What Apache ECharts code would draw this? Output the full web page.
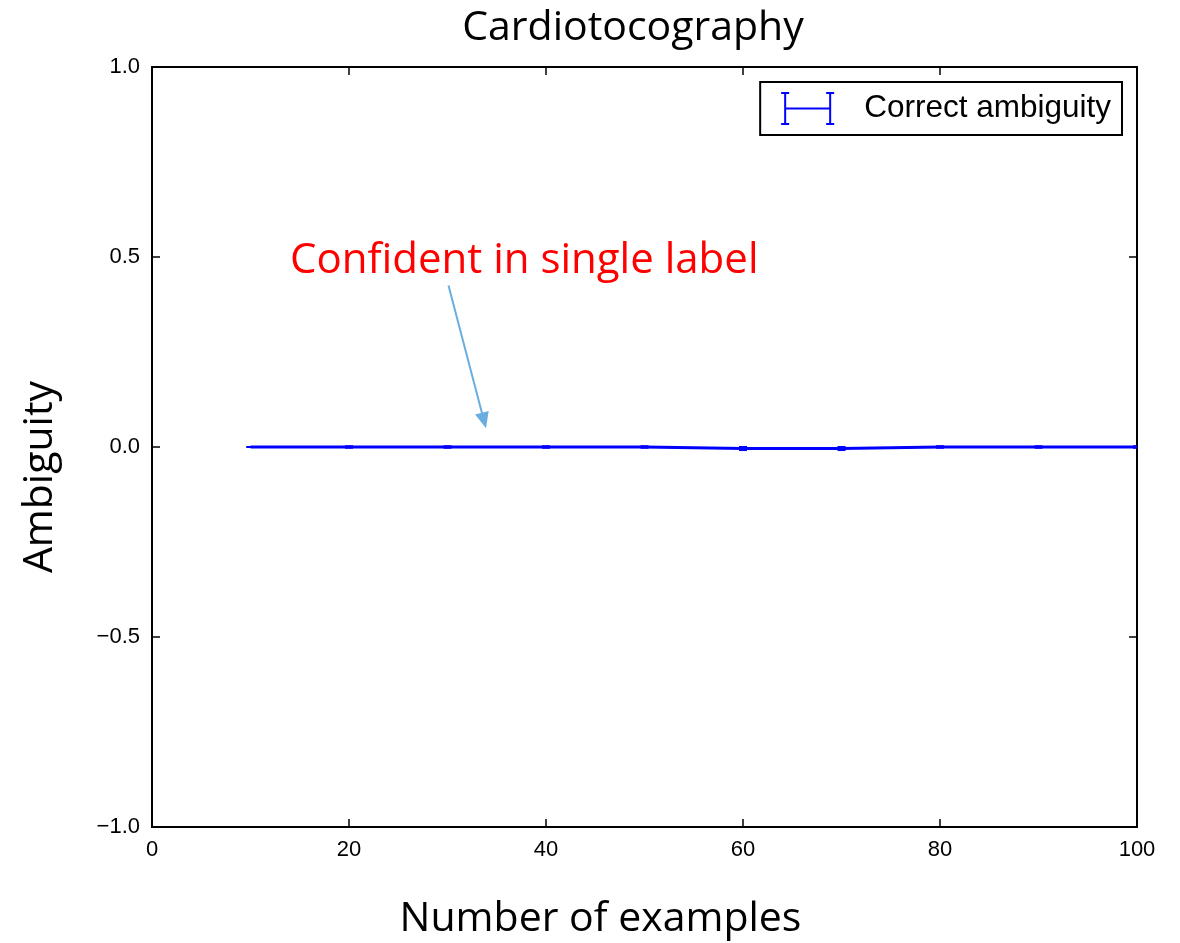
<!DOCTYPE html>
<html><head><meta charset="utf-8">
<script src="https://cdn.jsdelivr.net/npm/echarts@6/dist/echarts.min.js"></script>
<style>html,body{margin:0;padding:0;background:#fff}#c{width:1180px;height:943px}</style>
</head><body><div id="c"></div>
<script>
const xValues = [10, 20, 30, 40, 50, 60, 70, 80, 90, 100];
const ambiguity = [0.0, 0.0, 0.0, 0.0, 0.0, -0.004, -0.004, 0.0, 0.0, 0.0];
const ambiguityErr = [0.0, 0.002, 0.002, 0.002, 0.002, 0.004, 0.004, 0.002, 0.002, 0.002];
const yTicks = [-1.0, -0.5, 0.0, 0.5, 1.0];
const annotationText = 'Confident in single label';
const arrowFrom = [30.1, 0.425];
const arrowTo = [33.7, 0.07];

const chart = echarts.init(document.getElementById('c'));
const tickFont = {fontFamily: 'Liberation Sans', fontSize: 22, color: '#000'};
const fmtY = v => (v < 0 ? '\u2212' : '') + Math.abs(v).toFixed(1);
const errData = xValues.map((x, i) => [x, ambiguity[i] - ambiguityErr[i], ambiguity[i] + ambiguityErr[i]]);
const axisCommon = {
  axisLine: {show: true, onZero: false, lineStyle: {color: '#000', width: 2}},
  axisTick: {inside: true, length: 8, lineStyle: {color: '#000', width: 1.5}},
  splitLine: {show: false}
};
const legendIcon = 'path://M0,0h8v2h-3v29h3v2h-8v-2h3v-29h-3z M4,15.5h45v2h-45z M45,0h8v2h-3v29h3v2h-8v-2h3v-29h-3z';

chart.setOption({
  animation: false,
  title: {text: 'Cardiotocography', left: 628, top: 3, textAlign: 'center',
    textStyle: {fontFamily: 'Open Sans', fontSize: 41, fontWeight: 'normal', color: '#000'}},
  grid: {left: 152, top: 67, width: 985, height: 760, containLabel: false, outerBoundsMode: 'none',
    show: true, borderColor: '#000', borderWidth: 2, backgroundColor: '#fff'},
  legend: {
    data: [{name: 'Correct ambiguity', icon: legendIcon}],
    right: 58, top: 82, itemWidth: 53, itemHeight: 33, itemGap: 10,
    padding: [10, 11, 10, 21], borderColor: '#000', borderWidth: 2, backgroundColor: '#fff',
    textStyle: {fontFamily: 'Liberation Sans', fontSize: 31.5, color: '#000', padding: [0, 0, 0, 25]},
    itemStyle: {color: '#0000ff'}
  },
  xAxis: [
    Object.assign({type: 'value', min: 0, max: 100, interval: 20, position: 'bottom',
     name: 'Number of examples', nameLocation: 'middle', nameGap: 72,
     nameTextStyle: {fontFamily: 'Open Sans', fontSize: 41, color: '#000', padding: [0, 88, 0, 0]},
     axisLabel: Object.assign({margin: 12}, tickFont)}, axisCommon),
    Object.assign({type: 'value', min: 0, max: 100, interval: 20, position: 'top',
     axisLabel: {show: false}}, axisCommon)
  ],
  yAxis: [
    Object.assign({type: 'value', min: yTicks[0], max: yTicks[yTicks.length - 1], interval: 0.5, position: 'left',
     axisLabel: Object.assign({margin: 12, formatter: fmtY}, tickFont)}, axisCommon),
    Object.assign({type: 'value', min: yTicks[0], max: yTicks[yTicks.length - 1], interval: 0.5, position: 'right',
     axisLabel: {show: false}}, axisCommon)
  ],
  series: [
    {name: 'Correct ambiguity', type: 'line', data: xValues.map((x, i) => [x, ambiguity[i]]),
     showSymbol: false, lineStyle: {color: '#0000ff', width: 3}, itemStyle: {color: '#0000ff'},
     markLine: {silent: true, symbol: ['none', 'triangle'], symbolSize: [14, 16],
       label: {show: false},
       lineStyle: {color: '#6aaee0', width: 2, type: 'solid'},
       data: [[{coord: arrowFrom}, {coord: arrowTo}]]}},
    {name: 'Correct ambiguity', type: 'custom', data: errData, clip: true,
     renderItem: (params, api) => {
       const x = api.value(0);
       const lo = api.coord([x, api.value(1)]);
       const hi = api.coord([x, api.value(2)]);
       const w = 4;
       const st = {stroke: '#0000ff', lineWidth: 2};
       return {type: 'group', children: [
         {type: 'line', shape: {x1: lo[0], y1: lo[1], x2: hi[0], y2: hi[1]}, style: st},
         {type: 'line', shape: {x1: lo[0] - w, y1: lo[1], x2: lo[0] + w, y2: lo[1]}, style: st},
         {type: 'line', shape: {x1: hi[0] - w, y1: hi[1], x2: hi[0] + w, y2: hi[1]}, style: st}
       ]};
     }}
  ],
  graphic: [
    {type: 'text', left: 290, top: 240,
     style: {text: annotationText, fill: '#ff0000', font: '42px "Open Sans"'}},
    {type: 'text', x: 40, y: 477, rotation: Math.PI / 2,
     style: {text: 'Ambiguity', fill: '#000', font: '41px "Open Sans"', align: 'center', verticalAlign: 'middle'}}
  ]
});
</script></body></html>
